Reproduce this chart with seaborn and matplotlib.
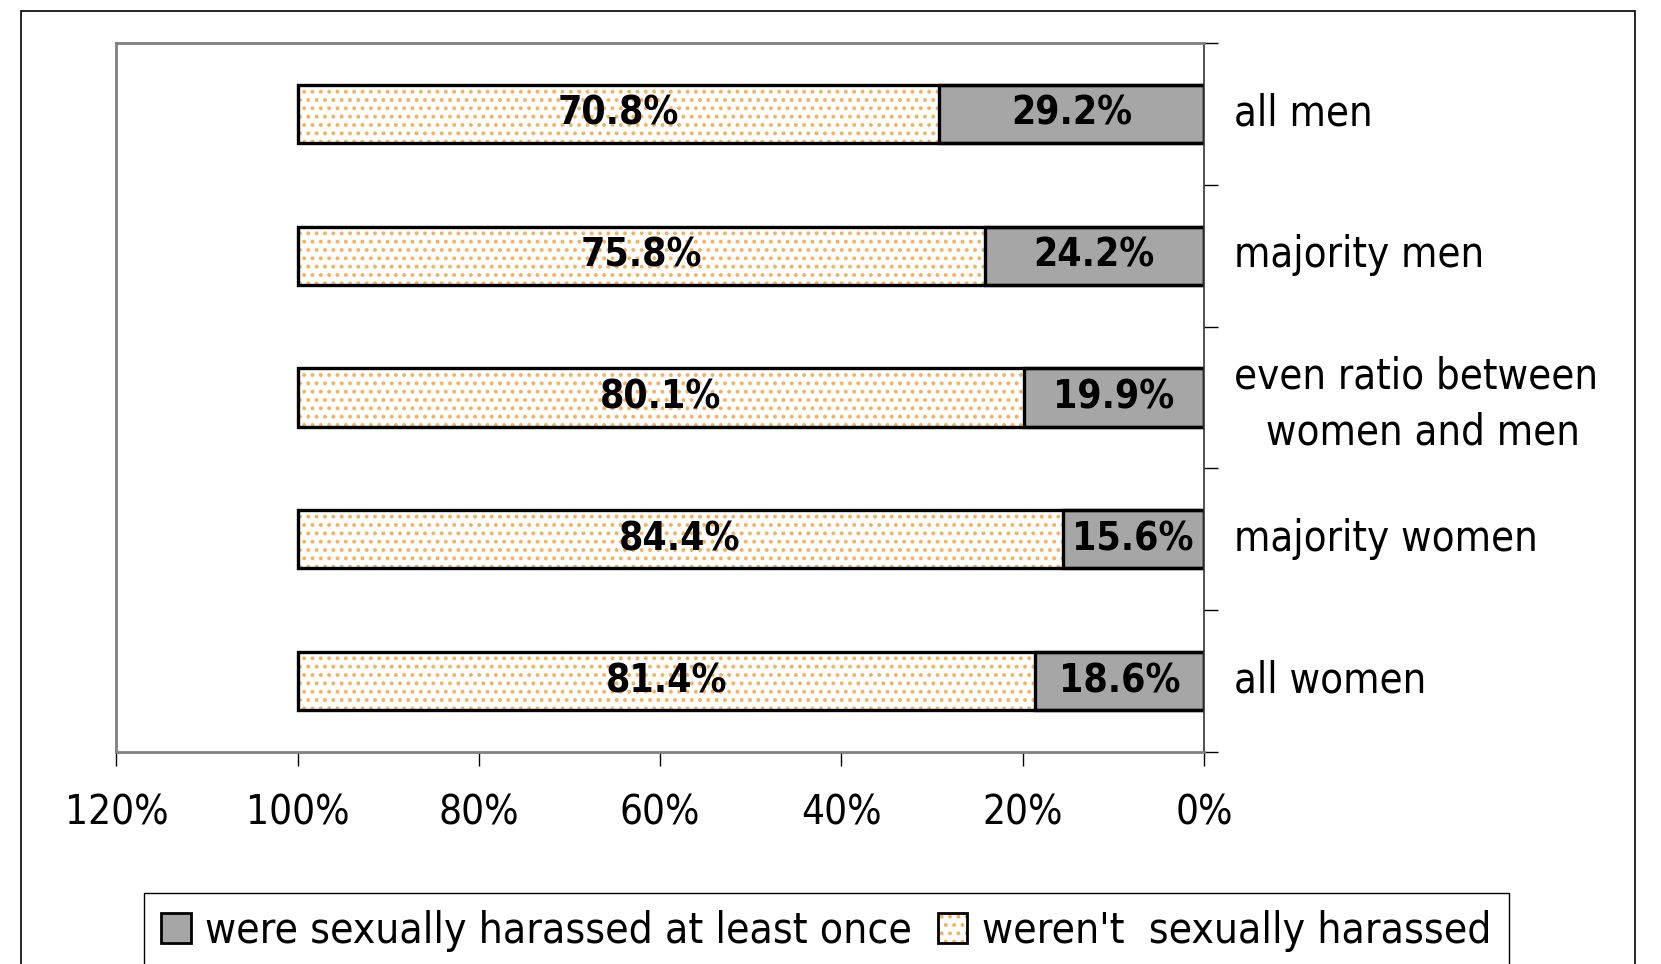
import matplotlib
matplotlib.use("Agg")
import matplotlib.pyplot as plt
import seaborn as sns
import pandas as pd
from matplotlib.patches import Patch, Rectangle
from matplotlib.ticker import FixedLocator
from matplotlib.transforms import ScaledTranslation

groups = ["all men", "majority men", "even ratio between\n women and men", "majority women", "all women"]
harassed = [29.2, 24.2, 19.9, 15.6, 18.6]
not_harassed = [70.8, 75.8, 80.1, 84.4, 81.4]
xticks = [0, 20, 40, 60, 80, 100, 120]

GRAY = "#A6A6A6"
DOTS = "#F5B25E"

df = pd.DataFrame({"group": groups, "harassed": harassed, "not_harassed": not_harassed})
df["total"] = df["harassed"] + df["not_harassed"]

sns.set_style("white")
plt.rcParams["font.family"] = ["DejaVu Sans Condensed", "DejaVu Sans"]
plt.rcParams["font.stretch"] = "condensed"
plt.rcParams["text.color"] = "black"
plt.rcParams["xtick.color"] = "black"
plt.rcParams["ytick.color"] = "black"
plt.rcParams["hatch.linewidth"] = 1.6

fig = plt.figure(figsize=(16.61, 9.64), dpi=100)
ax = fig.add_axes([0.0701, 0.2199, 0.6547, 0.7355])

# dotted part (full bar, later covered by the gray part)
sns.barplot(data=df, x="total", y="group", orient="h", color="white", width=0.41,
            edgecolor=DOTS, linewidth=0, hatch="..", ax=ax, saturation=1)
sns.barplot(data=df, x="harassed", y="group", orient="h", color=GRAY, width=0.41,
            edgecolor="black", linewidth=2.4, ax=ax, saturation=1)
sns.barplot(data=df, x="total", y="group", orient="h", fill=False, width=0.41,
            edgecolor="black", linewidth=2.4, ax=ax)

ax.set_xlim(120, 0)
ax.set_ylim(4.5, -0.5)
ax.set_xlabel("")
ax.set_ylabel("")

# labels inside the bars
gray_bars = ax.containers[1]
ax.bar_label(gray_bars, labels=[f"{v:.1f}%" for v in harassed], label_type="center",
             fontsize=28, fontweight="bold")
for i, (h, n) in enumerate(zip(harassed, not_harassed)):
    ax.text(h + n / 2, i, f"{n:.1f}%", ha="center", va="center", fontsize=28, fontweight="bold")

# axis styling
ax.set_xticks(xticks)
ax.set_xticklabels([f"{t}%" for t in xticks], fontsize=29)
ax.tick_params(axis="x", direction="out", length=10, width=1, pad=20, bottom=True)

ax.yaxis.tick_right()
ax.yaxis.set_major_locator(FixedLocator([i - 0.5 for i in range(len(groups) + 1)]))
ax.yaxis.set_minor_locator(FixedLocator(range(len(groups))))
ax.set_yticklabels([], minor=False)
ax.set_yticklabels(groups, minor=True, fontsize=30)
ax.tick_params(axis="y", which="major", direction="out", length=10, width=1, right=True, left=False)
ax.tick_params(axis="y", which="minor", length=0, pad=22, right=True, left=False)
for lab in ax.get_yticklabels(minor=True):
    lab.set_multialignment("center")
    lab.set_linespacing(1.45)
    lab.set_transform(lab.get_transform() + ScaledTranslation(0, 0.05, fig.dpi_scale_trans))

for side in ["left", "top", "bottom"]:
    ax.spines[side].set_color("#808080")
    ax.spines[side].set_linewidth(2)
ax.spines["right"].set_color("#333333")
ax.spines["right"].set_linewidth(1.2)

# legend
h_gray = Patch(facecolor=GRAY, edgecolor="black", linewidth=2)
h_dot = (Patch(facecolor="white", edgecolor=DOTS, hatch="..", linewidth=0),
         Patch(fill=False, edgecolor="black", linewidth=2))
fig.legend([h_gray, h_dot], ["were sexually harassed at least once", "weren't  sexually harassed"],
           loc="upper left", bbox_to_anchor=(0.0867, 0.0737), ncol=2, fontsize=30.5,
           frameon=True, fancybox=False, edgecolor="black", framealpha=1,
           handlelength=0.7, handleheight=0.7, handletextpad=0.35, columnspacing=0.6,
           borderpad=0.4, borderaxespad=0)

# outer frame
fig.patches.append(Rectangle((0.0126, -0.1), 0.9717, 1.0886, transform=fig.transFigure,
                             fill=False, edgecolor="black", linewidth=1.2))

fig.savefig("out.png", dpi=100)
